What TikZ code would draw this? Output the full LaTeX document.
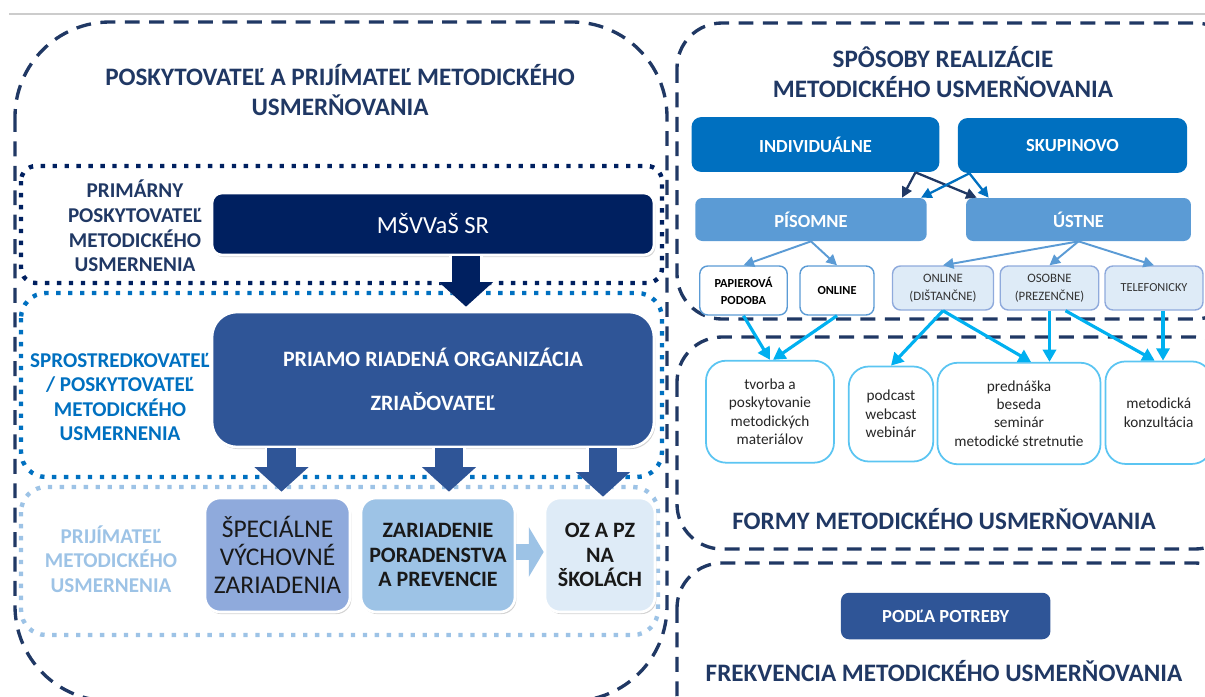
\documentclass[tikz,border=0pt]{standalone}
\usepackage{fontspec}
\setmainfont{Carlito}
\usetikzlibrary{positioning,arrows.meta,shadows,calc}

\definecolor{navy}{HTML}{203864}
\definecolor{darknavy}{HTML}{002060}
\definecolor{midblue}{HTML}{0070C0}
\definecolor{paleblue}{HTML}{9DC3E6}
\definecolor{royal}{HTML}{2F5597}
\definecolor{lavblue}{HTML}{8FAADC}
\definecolor{iceblue}{HTML}{DEEBF7}
\definecolor{skyblue}{HTML}{5B9BD5}
\definecolor{cyanline}{HTML}{00B0F0}
\definecolor{cyanbox}{HTML}{5BC5F2}

\tikzset{
  panel/.style={draw=navy, line width=1.9pt, dash pattern=on 8.5pt off 5.4pt},
  dotbox/.style={line width=2.5pt, dash pattern=on 2.5pt off 4.3pt},
  paneltitle/.style={text=navy, align=center, font=\fontsize{14.3}{17.6}\selectfont\bfseries},
  sidelabel/.style={align=center, font=\fontsize{12}{14}\selectfont\bfseries},
  bigbox/.style={inner sep=0pt, draw=white, line width=1.5pt, align=center,
    drop shadow={opacity=0.35, shadow xshift=0.8pt, shadow yshift=-1.2pt}},
  blockarrow/.style={line width=16pt, -{Triangle[width=30pt,length=14pt]},
    preaction={draw=white, line width=19pt, -{Triangle[width=35pt,length=16.5pt]}}},
  waybox/.style={inner sep=0pt, align=center, text=white, font=\fontsize{10.5}{12}\selectfont\bfseries},
  smallbox/.style={inner sep=0pt, align=center, rounded corners=0.16cm, line width=0.8pt},
  formbox/.style={inner sep=0pt, align=center, draw=cyanbox, fill=white, line width=1pt,
    rounded corners=0.4cm, text=black!85, font=\fontsize{8.7}{10.5}\selectfont},
  thinarrow/.style={line width=1.3pt, -{Triangle[length=6pt,width=6pt]}},
  cyanarrow/.style={cyanline, line width=1.8pt, -{Triangle[length=7pt,width=7.5pt]}}
}

\begin{document}
\begin{tikzpicture}[x=0.02cm, y=-0.02cm]
  \useasboundingbox (0,0) rectangle (1205,697);
  \clip (0,0) rectangle (1205,697);

  % Top rule
  \draw[black!20, line width=0.6pt] (9,14) -- (1205,14);

  % Dashed panels
  \draw[panel, rounded corners=1.9cm] (15,22) rectangle (667,701);
  \draw[panel, rounded corners=0.9cm] (677,23) rectangle (1240,319);
  \draw[panel, rounded corners=0.9cm] (677,337) rectangle (1240,549);
  \draw[panel, rounded corners=0.9cm] (677,563) rectangle (1240,740);

  % Panel titles
  \node[paneltitle] (lefttitle) at (340,90) {POSKYTOVATEĽ A PRIJÍMATEĽ METODICKÉHO\\USMERŇOVANIA};
  \node[paneltitle] (waytitle) at (943,72) {SPÔSOBY REALIZÁCIE\\METODICKÉHO USMERŇOVANIA};
  \node[paneltitle] (formtitle) at (944,519) {FORMY METODICKÉHO USMERŇOVANIA};
  \node[paneltitle] (freqtitle) at (944,671) {FREKVENCIA METODICKÉHO USMERŇOVANIA};

  % Dotted levels
  \draw[dotbox, darknavy, rounded corners=0.3cm] (21,166) rectangle (662,283);
  \draw[dotbox, midblue, rounded corners=0.5cm] (21,293) rectangle (662,477);
  \draw[dotbox, paleblue, rounded corners=0.5cm] (21,487) rectangle (658,635);

  % Level labels
  \node[sidelabel, text=navy] (primary) at (135,226) {PRIMÁRNY\\POSKYTOVATEĽ\\METODICKÉHO\\USMERNENIA};
  \node[sidelabel, text=midblue] (broker) at (120,397) {SPROSTREDKOVATEĽ\\/ POSKYTOVATEĽ\\METODICKÉHO\\USMERNENIA};
  \node[sidelabel, text=paleblue] (receiver) at (111,559) {PRIJÍMATEĽ\\METODICKÉHO\\USMERNENIA};

  % Providers and receivers
  \node[bigbox, minimum width=8.84cm, minimum height=1.24cm, fill=darknavy, rounded corners=0.2cm,
    text=white, font=\fontsize{14}{17}\selectfont] (msv) at (433,224) {MŠVVaŠ SR};
  \node[bigbox, minimum width=8.84cm, minimum height=2.7cm, fill=royal, rounded corners=0.5cm,
    text=white, font=\fontsize{12.5}{25}\selectfont\bfseries] (pro) at (433,379.5) {PRIAMO RIADENÁ ORGANIZÁCIA\\ZRIAĎOVATEĽ};
  \node[bigbox, minimum width=2.9cm, minimum height=2.28cm, fill=lavblue, rounded corners=0.3cm,
    text=black!90, font=\fontsize{14.5}{16}\selectfont] (spec) at (277.5,555) {ŠPECIÁLNE\\VÝCHOVNÉ\\ZARIADENIA};
  \node[bigbox, minimum width=3.08cm, minimum height=2.28cm, fill=paleblue, rounded corners=0.3cm,
    text=black!90, font=\fontsize{12.5}{14}\selectfont\bfseries] (zar) at (438,555) {ZARIADENIE\\PORADENSTVA\\A PREVENCIE};
  \node[bigbox, minimum width=2.2cm, minimum height=2.28cm, fill=iceblue, rounded corners=0.3cm,
    text=black!90, font=\fontsize{12.5}{14}\selectfont\bfseries] (oz) at (600,555) {OZ A PZ\\NA\\ŠKOLÁCH};

  % Block arrows
  \draw[blockarrow, darknavy] ($(msv.south)+(33,0)$) -- ($(pro.north)+(33,-4)$);
  \draw[blockarrow, royal] ($(spec.north |- pro.south)+(4,0)$) -- ($(spec.north)+(4,-5)$);
  \draw[blockarrow, royal] ($(zar.north |- pro.south)+(11,0)$) -- ($(zar.north)+(11,-5)$);
  \draw[blockarrow, royal] ($(oz.north |- pro.south)+(3,0)$) -- ($(oz.north)+(3,0)$);
  \draw[paleblue, line width=9pt, -{Triangle[width=28pt,length=8.5pt]}] ($(zar.east)+(0,-3)$) -- ($(oz.west)+(0,-3)$);

  % Ways of realisation
  \node[waybox, minimum width=4.96cm, minimum height=1.1cm, fill=midblue, rounded corners=0.2cm] (ind) at (815.5,144.5) {INDIVIDUÁLNE};
  \node[waybox, minimum width=4.59cm, minimum height=1.1cm, fill=midblue, rounded corners=0.2cm] (sku) at (1072.5,145.5) {SKUPINOVO};
  \node[waybox, minimum width=4.63cm, minimum height=0.86cm, fill=skyblue, rounded corners=0.14cm,
    font=\fontsize{10.5}{12}\selectfont\bfseries] (pis) at (811,219.5) {PÍSOMNE};
  \node[waybox, minimum width=4.5cm, minimum height=0.86cm, fill=skyblue, rounded corners=0.14cm,
    font=\fontsize{10.5}{12}\selectfont\bfseries] (ust) at (1078.5,219.5) {ÚSTNE};

  \node[smallbox, minimum width=1.75cm, minimum height=0.98cm, draw=skyblue, fill=white,
    font=\fontsize{7}{9.7}\selectfont\bfseries] (pap) at (743.5,290.5) {PAPIEROVÁ\\PODOBA};
  \node[smallbox, minimum width=1.48cm, minimum height=0.98cm, draw=skyblue, fill=white,
    font=\fontsize{7}{9.7}\selectfont\bfseries] (onl) at (837,290.5) {ONLINE};
  \node[smallbox, minimum width=2.02cm, minimum height=0.88cm, draw=lavblue, fill=iceblue, text=black!80,
    font=\fontsize{7.3}{10}\selectfont] (onld) at (943,288) {ONLINE\\(DIŠTANČNE)};
  \node[smallbox, minimum width=1.97cm, minimum height=0.88cm, draw=lavblue, fill=iceblue, text=black!80,
    font=\fontsize{7.3}{10}\selectfont] (osob) at (1049.5,288) {OSOBNE\\(PREZENČNE)};
  \node[smallbox, minimum width=1.96cm, minimum height=0.88cm, draw=lavblue, fill=iceblue, text=black!80,
    font=\fontsize{7}{9}\selectfont] (tel) at (1154,288) {TELEFONICKY};

  \draw[thinarrow, navy] ($(ind.south)+(100,0)$) -- ($(pis.north east)+(-25,0)$);
  \draw[thinarrow, navy] ($(ind.south)+(100,0)$) -- ($(ust.north west)+(11,0)$);
  \draw[thinarrow, midblue] ($(sku.south west)+(12,0)$) -- ($(pis.north east)+(-6,0)$);
  \draw[thinarrow, midblue] ($(sku.south west)+(12,0)$) -- ($(ust.north west)+(23,0)$);

  \draw[thinarrow, skyblue, line width=1.1pt] (pis.south) -- (pap.north);
  \draw[thinarrow, skyblue, line width=1.1pt] (pis.south) -- (onl.north);
  \draw[thinarrow, skyblue, line width=1.1pt] (ust.south) -- (onld.north);
  \draw[thinarrow, skyblue, line width=1.1pt] (ust.south) -- (osob.north);
  \draw[thinarrow, skyblue, line width=1.1pt] (ust.south) -- (tel.north);

  % Forms
  \node[formbox, minimum width=2.56cm, minimum height=2.04cm] (tvo) at (770,411.7) {tvorba a\\poskytovanie\\metodických\\materiálov};
  \node[formbox, minimum width=1.69cm, minimum height=1.9cm] (pod) at (891,414) {podcast\\webcast\\webinár};
  \node[formbox, minimum width=3.26cm, minimum height=2.03cm] (pre) at (1019,413.5) {prednáška\\beseda\\seminár\\metodické stretnutie};
  \node[formbox, minimum width=2.13cm, minimum height=2.05cm] (met) at (1158.7,412.7) {metodická\\konzultácia};

  \coordinate (osobfoot) at ($(osob.south)+(16,0)$);
  \coordinate (telfoot) at ($(tel.south)+(9,0)$);
  \draw[cyanarrow] (pap.south) -- (tvo.north);
  \draw[cyanarrow] (onl.south) -- ($(tvo.north)+(3,0)$);
  \draw[cyanarrow] (onld.south) -- (pod.north);
  \draw[cyanarrow] (onld.south) -- ($(pre.north)+(12,0)$);
  \draw[cyanarrow] (osob.south) -- (osob.south |- pre.north);
  \draw[cyanarrow] (osobfoot) -- ($(met.north)+(-4,0)$);
  \draw[cyanarrow] (telfoot) -- (telfoot |- met.north);

  % Frequency
  \node[waybox, minimum width=4.19cm, minimum height=0.93cm, fill=royal, rounded corners=0.16cm] (pdl) at (945.7,616) {PODĽA POTREBY};
\end{tikzpicture}
\end{document}
